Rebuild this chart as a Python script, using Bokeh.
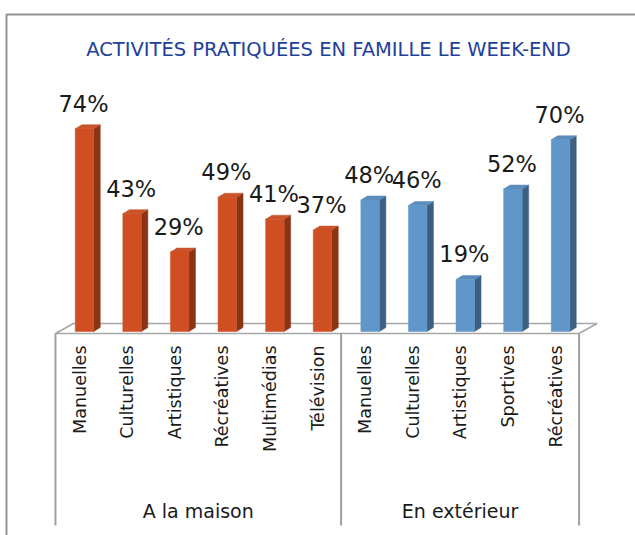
import math
from bokeh.plotting import figure
from bokeh.models import Range1d, ColumnDataSource
from bokeh.core.properties import value
from bokeh.embed import file_html
from bokeh.resources import INLINE

# ---------------- data ----------------
title_text = "ACTIVITÉS PRATIQUÉES EN FAMILLE LE WEEK-END"
groups = ["A la maison", "En extérieur"]
maison_labels = ["Manuelles", "Culturelles", "Artistiques", "Récréatives", "Multimédias", "Télévision"]
maison_values = [74, 43, 29, 49, 41, 37]
exterieur_labels = ["Manuelles", "Culturelles", "Artistiques", "Sportives", "Récréatives"]
exterieur_values = [48, 46, 19, 52, 70]

# ---------------- geometry (page pixels -> data units) ----------------
W, H = 635, 535
PITCH = 47.6     # px per category slot
X0 = 84          # page x of first bar centre
BASE = 331       # page y of value 0
SCALE = 2.74     # px per percent


def dx(px):
    return (px - X0) / PITCH


def dy(py):
    return (BASE - py) / SCALE


FONT = value("DejaVu Sans")

p = figure(width=W, height=H, output_backend="svg", toolbar_location=None,
           x_range=Range1d(dx(0), dx(W)), y_range=Range1d(dy(H), dy(0)),
           x_axis_location=None, y_axis_location=None,
           min_border=0, outline_line_color=None,
           background_fill_color="white", border_fill_color="white")
p.grid.grid_line_color = None

# frame border (top + left visible)
p.line(x=[dx(6), dx(6), dx(645)], y=[dy(545), dy(14), dy(14)],
       line_color="#949494", line_width=2)

# title
p.text(x=[dx(328)], y=[dy(49)], text=[title_text], text_font=FONT,
       text_font_size="19.5px", text_color="#22409A",
       text_align="center", text_baseline="middle")

n_m = len(maison_values)
n_e = len(exterieur_values)
n = n_m + n_e
xs = list(range(n))
vals = maison_values + exterieur_values
labels = maison_labels + exterieur_labels

# floor parallelogram
SHIFT = -0.11
fl_l = -0.5 + SHIFT
fl_r = n - 0.5 + SHIFT
FDX = 18 / PITCH
FDY = 10 / SCALE
fy = dy(333)
p.patch(x=[fl_l, fl_r, fl_r + FDX, fl_l + FDX],
        y=[fy, fy, fy + FDY, fy + FDY],
        fill_color="white", line_color="#A6A6A6", line_width=1.6)

# table lines
y_bot = dy(525)
sep_x = [fl_l, n_m - 0.5 + SHIFT, fl_r]
p.segment(x0=sep_x, y0=[fy] * 3, x1=sep_x, y1=[y_bot] * 3,
          line_color="#A0A0A0", line_width=2)

# 3D bars
BW = 18.5 / PITCH
DDX = 6.5 / PITCH
DDY = 4 / SCALE


def draw_bars(xpos, values, front, side, top):
    src = ColumnDataSource(dict(x=xpos, top=values))
    side_xs = [[x + BW / 2, x + BW / 2 + DDX, x + BW / 2 + DDX, x + BW / 2] for x in xpos]
    side_ys = [[0, DDY, v + DDY, v] for v in values]
    top_xs = [[x - BW / 2, x - BW / 2 + DDX, x + BW / 2 + DDX, x + BW / 2] for x in xpos]
    top_ys = [[v, v + DDY, v + DDY, v] for v in values]
    p.patches(xs=side_xs, ys=side_ys, fill_color=side, line_color=side, line_width=0.5)
    p.patches(xs=top_xs, ys=top_ys, fill_color=top, line_color=top, line_width=0.5)
    p.vbar(x="x", top="top", bottom=0, width=BW, source=src,
           fill_color=front, line_color=front, line_width=0.5)


draw_bars(xs[:n_m], maison_values, "#CF4E22", "#8A3416", "#C9532A")
draw_bars(xs[n_m:], exterieur_values, "#6196C8", "#3E5F84", "#5A8CBD")

# value labels
p.text(x=[x - 0.02 for x in xs], y=vals, text=[f"{v}%" for v in vals],
       text_font=FONT, text_font_size="22.5px", text_color="#1A1A1A",
       text_align="center", text_baseline="alphabetic", y_offset=-25)

# category labels (rotated)
p.text(x=[x - 0.105 for x in xs], y=[dy(345)] * n, text=labels,
       angle=math.pi / 2, text_font=FONT, text_font_size="17.5px",
       text_color="#1A1A1A", text_align="right", text_baseline="middle")

# group labels
gx = [(sep_x[0] + sep_x[1]) / 2, (sep_x[1] + sep_x[2]) / 2]
p.text(x=gx, y=[dy(510)] * 2, text=groups, text_font=FONT,
       text_font_size="19px", text_color="#1A1A1A",
       text_align="center", text_baseline="middle")

open("out.html", "w").write(file_html(p, INLINE))
